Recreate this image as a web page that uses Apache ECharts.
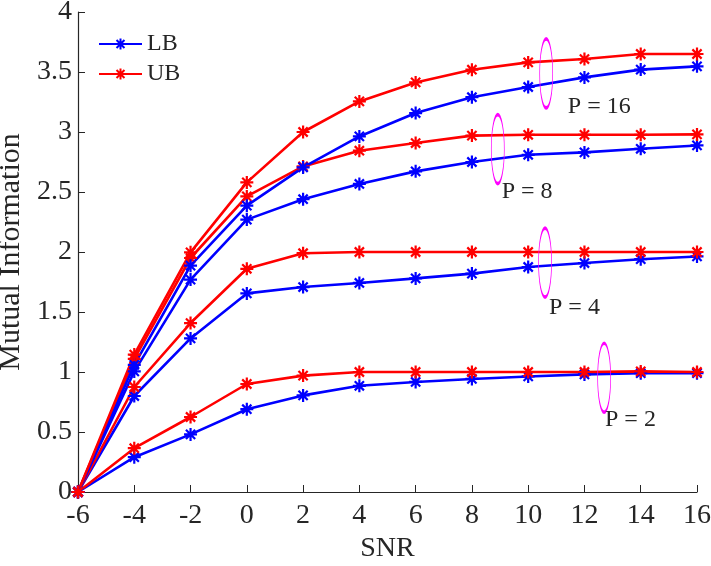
<!DOCTYPE html>
<html style="height: 100%">
<head>
<meta charset="utf-8">
</head>
<body style="height: 100%; margin: 0; background: #fff">
<div id="container" style="width: 711px; height: 566px"></div>
<script src="https://cdn.jsdelivr.net/npm/echarts@6/dist/echarts.min.js"></script>
<script>
// SNR grid and mutual information bounds
var snr = [-6, -4, -2, 0, 2, 4, 6, 8, 10, 12, 14, 16];

var lbP2  = [0, 0.29, 0.48, 0.69, 0.805, 0.885, 0.917, 0.942, 0.963, 0.98, 0.99, 0.99];
var ubP2  = [0, 0.365, 0.625, 0.90, 0.97, 1.0, 1.0, 1.0, 1.0, 1.0, 1.005, 1.0];
var lbP4  = [0, 0.80, 1.28, 1.655, 1.708, 1.742, 1.78, 1.82, 1.875, 1.908, 1.94, 1.963];
var ubP4  = [0, 0.875, 1.408, 1.86, 1.99, 2.0, 2.0, 2.0, 2.0, 2.0, 2.0, 2.0];
var lbP8  = [0, 1.005, 1.77, 2.27, 2.44, 2.567, 2.672, 2.75, 2.81, 2.83, 2.86, 2.888];
var ubP8  = [0, 1.11, 1.95, 2.463, 2.713, 2.844, 2.908, 2.97, 2.977, 2.977, 2.977, 2.98];
var lbP16 = [0, 1.06, 1.886, 2.386, 2.705, 2.963, 3.158, 3.29, 3.375, 3.455, 3.52, 3.547];
var ubP16 = [0, 1.145, 1.997, 2.58, 3.0, 3.255, 3.413, 3.519, 3.58, 3.608, 3.65, 3.65];

// ellipse centre and label anchor, in data units
var notes = [
    {text: 'P = 2',  ring: [12.7, 0.952], label: [12.73, 0.60]},
    {text: 'P = 4',  ring: [10.6, 1.912], label: [10.74, 1.536]},
    {text: 'P = 8',  ring: [8.92, 2.857], label: [9.06, 2.50]},
    {text: 'P = 16', ring: [10.64, 3.488], label: [11.41, 3.21]}
];

var FONT = '"Liberation Serif", "DejaVu Serif", serif';
var INK = '#262626';
var STAR = 'path://M5,0L5,10M0,5L10,5M1.46,1.46L8.54,8.54M1.46,8.54L8.54,1.46';

function pairs(ys) {
    return snr.map(function (x, i) { return [x, ys[i]]; });
}

function curve(name, color, ys, note) {
    var s = {
        name: name,
        type: 'line',
        data: pairs(ys),
        symbol: STAR,
        symbolSize: 13,
        showAllSymbol: true,
        lineStyle: {color: color, width: 2.6},
        itemStyle: {color: color, borderColor: color, borderWidth: 2.2},
        emphasis: {disabled: true},
        animation: false
    };
    if (note) {
        s.markPoint = {
            silent: true,
            animation: false,
            data: [
                {
                    coord: note.ring,
                    symbol: 'circle',
                    symbolSize: [13, 69],
                    itemStyle: {color: 'rgba(0,0,0,0)', borderColor: '#ff00ff', borderWidth: 1.6},
                    label: {show: false}
                },
                {
                    coord: note.label,
                    symbol: 'circle',
                    symbolSize: 0,
                    label: {
                        show: true,
                        position: 'inside',
                        align: 'left',
                        verticalAlign: 'middle',
                        formatter: note.text,
                        color: INK,
                        fontFamily: FONT,
                        fontSize: 24
                    }
                }
            ]
        };
    }
    return s;
}

var chart = echarts.init(document.getElementById('container'));

var option = {
    backgroundColor: '#fff',
    animation: false,
    grid: {left: 78, right: 14, top: 12, bottom: 74, containLabel: false, outerBoundsMode: 'none'},
    legend: {
        left: 98,
        top: 32,
        orient: 'vertical',
        itemWidth: 43,
        itemHeight: 14,
        itemGap: 6,
        padding: 0,
        data: ['LB', 'UB'],
        textStyle: {fontFamily: FONT, fontSize: 24, color: INK, padding: [0, 0, 0, 0]}
    },
    xAxis: {
        type: 'value',
        min: -6,
        max: 16,
        interval: 2,
        name: 'SNR',
        nameLocation: 'middle',
        nameGap: 41,
        nameTextStyle: {fontFamily: FONT, fontSize: 28, color: INK},
        axisLine: {onZero: false, lineStyle: {color: INK, width: 1.2}},
        axisTick: {inside: true, length: 7, lineStyle: {color: INK}},
        axisLabel: {fontFamily: FONT, fontSize: 28, color: INK, margin: 10},
        splitLine: {show: false}
    },
    yAxis: {
        type: 'value',
        min: 0,
        max: 4,
        interval: 0.5,
        name: 'Mutual Information',
        nameLocation: 'middle',
        nameGap: 50,
        nameTextStyle: {fontFamily: FONT, fontSize: 30, color: INK},
        axisLine: {show: true, onZero: false, lineStyle: {color: INK, width: 1.2}},
        axisTick: {show: true, inside: true, length: 7, lineStyle: {color: INK}},
        axisLabel: {fontFamily: FONT, fontSize: 28, color: INK, margin: 6},
        splitLine: {show: false}
    },
    series: [
        curve('LB', '#0000ff', lbP2),
        curve('UB', '#ff0000', ubP2, notes[0]),
        curve('LB', '#0000ff', lbP4),
        curve('UB', '#ff0000', ubP4, notes[1]),
        curve('LB', '#0000ff', lbP8),
        curve('UB', '#ff0000', ubP8, notes[2]),
        curve('LB', '#0000ff', lbP16),
        curve('UB', '#ff0000', ubP16, notes[3])
    ]
};

chart.setOption(option);
</script>
</body>
</html>
